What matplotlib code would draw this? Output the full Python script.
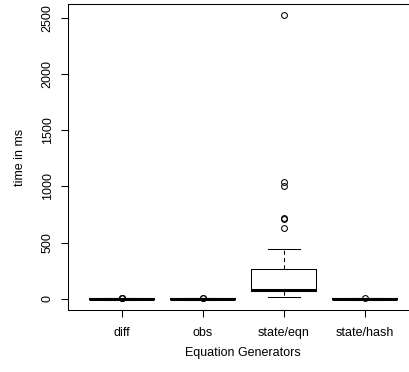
import matplotlib
matplotlib.use("Agg")
import matplotlib.pyplot as plt

# group names and box stats (ms)
groups = ["diff", "obs", "state/eqn", "state/hash"]
medians = [1, 1, 80, 1]
q1s = [0.5, 0.5, 70, 0.5]
q3s = [2, 2, 262, 2]
whis_lo = [0, 0, 12, 0]
whis_hi = [4, 4, 447, 4]
outliers = [
    [7, 8, 9],
    [6, 7],
    [632, 708, 715, 1000, 1040, 2525],
    [6],
]
yticks = [0, 500, 1000, 1500, 2000, 2500]

plt.rcParams['font.family'] = ['Liberation Sans', 'DejaVu Sans']
plt.rcParams['font.size'] = 9

fig = plt.figure(figsize=(4.09, 3.72), dpi=100)
# right edge of the plot box runs past the picture, as in the original
ax = fig.add_axes([68 / 409, 1 - 310 / 372, 350.5 / 409, 306 / 372])

stats = []
for i, name in enumerate(groups):
    stats.append(dict(label=name, med=medians[i], q1=q1s[i], q3=q3s[i],
                      whislo=whis_lo[i], whishi=whis_hi[i], fliers=outliers[i]))

ax.bxp(stats, positions=range(1, len(groups) + 1), widths=0.8,
       boxprops=dict(color='black', linewidth=0.75),
       medianprops=dict(color='black', linewidth=2.2, solid_capstyle='butt'),
       whiskerprops=dict(color='black', linewidth=0.75, linestyle=(0, (4, 3))),
       capprops=dict(color='black', linewidth=0.75),
       capwidths=0.4,
       flierprops=dict(marker='o', markerfacecolor='none', markeredgecolor='black',
                       markersize=4.2, markeredgewidth=0.75))

ax.set_xlim(0.34, 4.66)
ax.set_ylim(-101, 2626)
ax.set_yticks(yticks)
ax.set_yticklabels([str(v) for v in yticks], rotation=90, va='center')
ax.set_xticks(range(1, len(groups) + 1))
ax.set_xticklabels(groups)
ax.tick_params(direction='out', length=5, width=0.75)
ax.tick_params(axis='x', pad=7.5)
ax.tick_params(axis='y', pad=5.3)
for s in ax.spines.values():
    s.set_linewidth(0.75)

ax.set_xlabel('Equation Generators', labelpad=5.5)
ax.set_ylabel('time in ms', labelpad=11)

fig.savefig('out.png', dpi=100)
